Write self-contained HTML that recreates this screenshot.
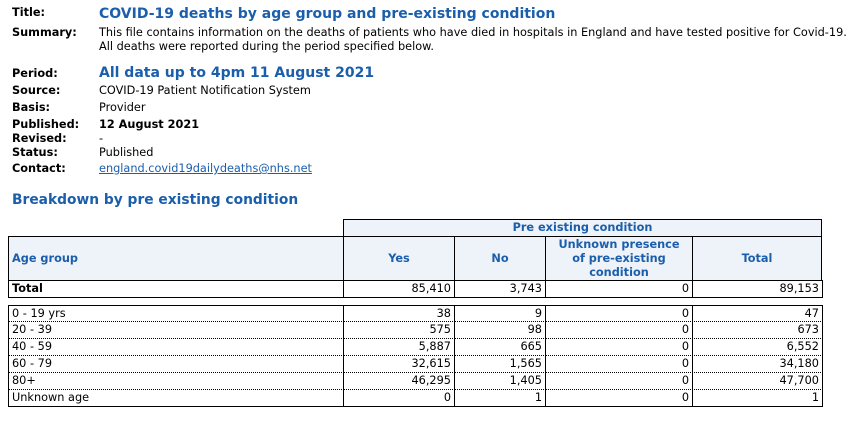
<!DOCTYPE html>
<html><head><meta charset="utf-8"><style>
body{margin:0;width:851px;height:423px;background:#fff;font-family:"DejaVu Sans","Liberation Sans",sans-serif;font-size:11.3px;color:#000;position:relative;overflow:hidden}
.a{position:absolute;white-space:nowrap;line-height:14px}
.l{left:12px;font-weight:bold}
.v{left:99px}
.b{color:#1b5eab;font-weight:bold}
.c{position:absolute;box-sizing:border-box;border:1px solid #000;line-height:15px;padding:0 3px;white-space:nowrap;font-size:11.3px}
.h{background:#eef2f9;color:#1b5eab;font-weight:bold;text-align:center;display:flex;align-items:center;justify-content:center;line-height:14px;white-space:normal}
.n{text-align:right}
.d{border-bottom:1px dotted #000;border-top:none}
</style></head><body>
<div class="a l" style="top:6px">Title:</div>
<div class="a b" style="left:99px;top:4px;font-size:14px;line-height:20px">COVID-19 deaths by age group and pre-existing condition</div>
<div class="a l" style="top:26px">Summary:</div>
<div class="a v" style="top:26px;line-height:14px">This file contains information on the deaths of patients who have died in hospitals in England and have tested positive for Covid-19.<br>All deaths were reported during the period specified below.</div>
<div class="a l" style="top:67px">Period:</div>
<div class="a b" style="left:99px;top:63px;font-size:14px;line-height:20px">All data up to 4pm 11 August 2021</div>
<div class="a l" style="top:84px">Source:</div>
<div class="a v" style="top:84px">COVID-19 Patient Notification System</div>
<div class="a l" style="top:101px">Basis:</div>
<div class="a v" style="top:101px">Provider</div>
<div class="a l" style="top:118px">Published:</div>
<div class="a v" style="top:118px;font-weight:bold">12 August 2021</div>
<div class="a l" style="top:132px">Revised:</div>
<div class="a v" style="top:132px">-</div>
<div class="a l" style="top:146px">Status:</div>
<div class="a v" style="top:146px">Published</div>
<div class="a l" style="top:162px">Contact:</div>
<div class="a v" style="top:162px;color:#1b5eab;text-decoration:underline">england.covid19dailydeaths@nhs.net</div>
<div class="a b" style="left:12px;top:190px;font-size:13.8px;line-height:20px">Breakdown by pre existing condition</div>

<div class="c h" style="left:343px;top:219px;width:479px;height:18px">Pre existing condition</div>
<div class="c h" style="left:8px;top:236px;width:336px;height:45px;justify-content:flex-start">Age group</div>
<div class="c h" style="left:343px;top:236px;width:112px;height:45px">Yes</div>
<div class="c h" style="left:454px;top:236px;width:92px;height:45px">No</div>
<div class="c h" style="left:545px;top:236px;width:148px;height:45px;padding:0 8px">Unknown presence of pre-existing condition</div>
<div class="c h" style="left:692px;top:236px;width:130px;height:45px">Total</div>
<script>
const ages=["0 - 19 yrs","20 - 39","40 - 59","60 - 79","80+","Unknown age"];
const yesVals=["38","575","5,887","32,615","46,295","0"];
const noVals=["9","98","665","1,565","1,405","1"];
const unkVals=["0","0","0","0","0","0"];
const totVals=["47","673","6,552","34,180","47,700","1"];
const totalRow=["Total","85,410","3,743","0","89,153"];
const colX=[8,343,454,545,692,822];
const root=document.body;
function cell(x,w,y,h,txt,cls,name){
  const d=document.createElement('div');
  d.className='c '+cls;
  d.style.left=x+'px';d.style.top=y+'px';d.style.width=w+'px';d.style.height=h+'px';
  d.textContent=txt;
  
  
  root.appendChild(d);
}
for(let c=0;c<5;c++){
  cell(colX[c],colX[c+1]-colX[c]+1,280,18,totalRow[c],c?'n':'',c?'total-row-value':'total-row-label');
  if(c===0) root.lastChild.style.fontWeight='bold';
}
const cols=[ages,yesVals,noVals,unkVals,totVals];
for(let r=0;r<ages.length;r++){
  const y=305+r*17;
  for(let c=0;c<5;c++){
    cell(colX[c],colX[c+1]-colX[c]+1,y,17,cols[c][r],(c?'n ':'')+(r<ages.length-1?'d':''),c?'data-value':'age-label');
    const el=root.lastChild;
    el.style.borderTop=r===0?'1px solid #000':'none';
    el.style.lineHeight='16px';
    if(r===ages.length-1) el.style.borderBottom='1px solid #000';
  }
}
</script>
</body></html>
